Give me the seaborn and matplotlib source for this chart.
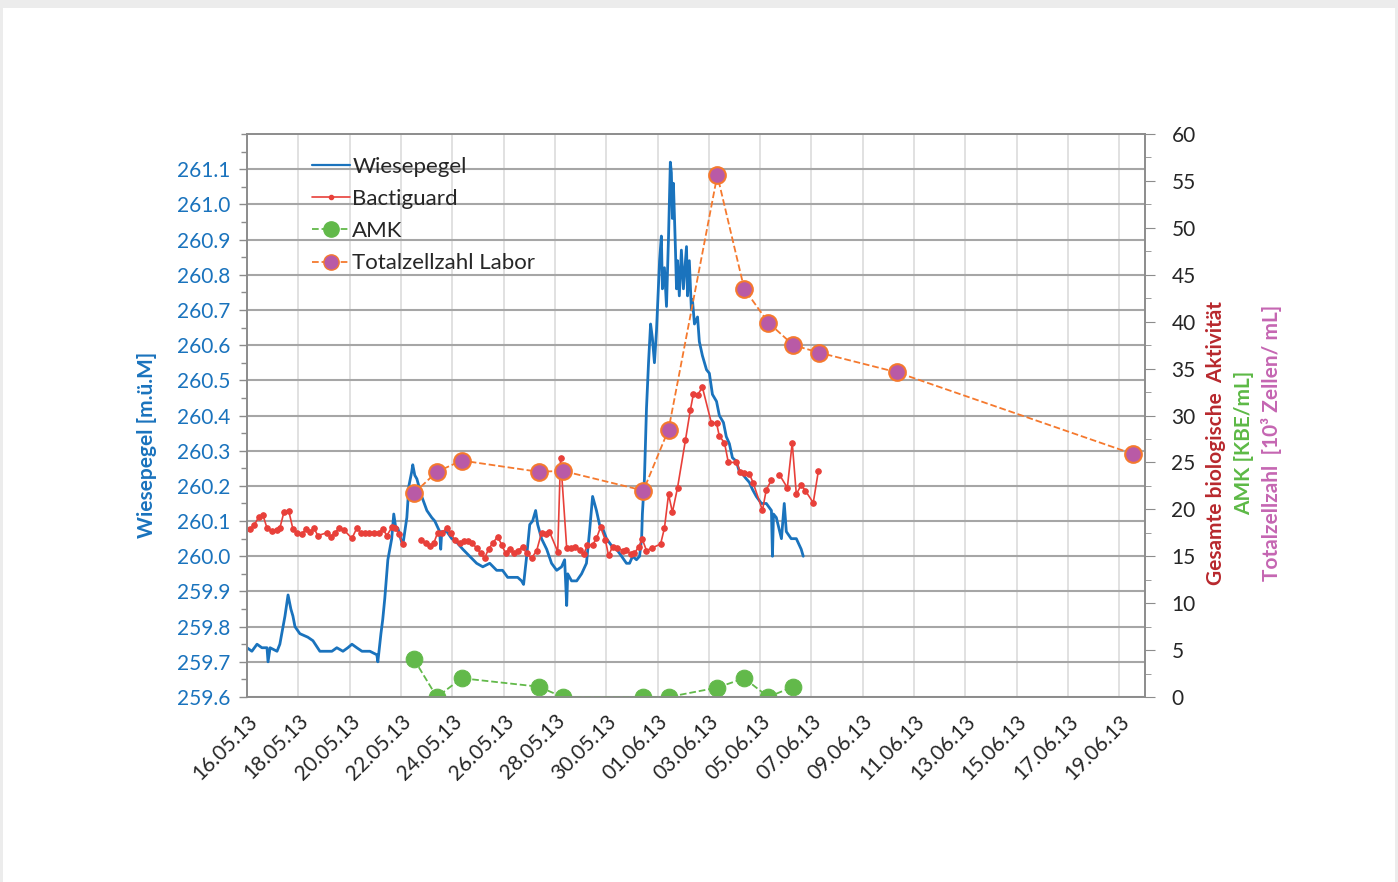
import matplotlib
matplotlib.use('AGG')

import numpy as np
import pandas as pd
import matplotlib.pyplot as plt
import matplotlib.dates as mdates
from matplotlib.ticker import MultipleLocator, FixedLocator
from matplotlib.lines import Line2D
from matplotlib.patches import Rectangle
import seaborn as sns

# --- data (days after 16.05.13 00:00) ---
pegel_tage = [0.00, 0.19, 0.39, 0.58, 0.78, 0.82, 0.90, 1.17, 1.28, 1.48, 1.60, 1.71,
              1.79, 1.87, 2.06, 2.37, 2.57, 2.84, 3.04, 3.31, 3.50, 3.74, 3.93, 4.09,
              4.28, 4.48, 4.79, 5.06, 5.10, 5.22, 5.29, 5.37, 5.49, 5.64, 5.72, 5.80,
              5.88, 5.99, 6.07, 6.23, 6.31, 6.42, 6.46, 6.54, 6.62, 6.81, 7.01, 7.20,
              7.32, 7.51, 7.55, 7.59, 7.79, 7.98, 8.17, 8.41, 8.68, 8.95, 9.19, 9.46,
              9.73, 9.96, 10.16, 10.35, 10.55, 10.70, 10.78, 10.90, 11.02, 11.13, 11.25,
              11.33, 11.48, 11.68, 11.87, 12.07, 12.26, 12.38, 12.46, 12.50, 12.65, 12.85,
              13.04, 13.23, 13.35, 13.47, 13.62, 13.74, 13.86, 14.01, 14.21, 14.40, 14.60,
              14.79, 14.91, 15.03, 15.18, 15.30, 15.38, 15.41, 15.49, 15.57, 15.65, 15.73,
              15.80, 15.88, 15.96, 16.08, 16.15, 16.19, 16.27, 16.35, 16.43, 16.50, 16.54,
              16.58, 16.62, 16.70, 16.74, 16.78, 16.85, 16.93, 17.01, 17.13, 17.17, 17.24,
              17.32, 17.36, 17.44, 17.56, 17.63, 17.75, 17.91, 18.02, 18.14, 18.30, 18.41,
              18.57, 18.68, 18.80, 18.92, 19.07, 19.19, 19.35, 19.46, 19.58, 19.70, 19.85,
              20.05, 20.24, 20.44, 20.48, 20.52, 20.63, 20.83, 20.94, 21.02, 21.21, 21.41,
              21.60, 21.68]
pegel = [259.74, 259.73, 259.75, 259.74, 259.74, 259.70, 259.74, 259.73, 259.75, 259.83,
         259.89, 259.85, 259.83, 259.80, 259.78, 259.77, 259.76, 259.73, 259.73, 259.73,
         259.74, 259.73, 259.74, 259.75, 259.74, 259.73, 259.73, 259.72, 259.70, 259.78,
         259.82, 259.88, 259.99, 260.05, 260.12, 260.08, 260.08, 260.05, 260.03, 260.11,
         260.20, 260.24, 260.26, 260.23, 260.22, 260.17, 260.13, 260.11, 260.10, 260.07,
         260.02, 260.07, 260.07, 260.05, 260.04, 260.02, 260.00, 259.98, 259.97, 259.98,
         259.96, 259.96, 259.94, 259.94, 259.94, 259.93, 259.92, 260.00, 260.09, 260.10,
         260.13, 260.09, 260.05, 260.02, 259.98, 259.96, 259.97, 259.99, 259.86, 259.95,
         259.93, 259.93, 259.95, 259.98, 260.07, 260.17, 260.13, 260.09, 260.08, 260.05,
         260.03, 260.02, 260.00, 259.98, 259.98, 260.00, 259.99, 260.00, 260.05, 260.12,
         260.22, 260.42, 260.55, 260.66, 260.62, 260.55, 260.64, 260.84, 260.91, 260.76,
         260.82, 260.71, 260.91, 261.12, 261.09, 260.96, 261.06, 260.87, 260.76, 260.84,
         260.74, 260.87, 260.76, 260.88, 260.74, 260.84, 260.70, 260.73, 260.66, 260.68,
         260.61, 260.57, 260.53, 260.52, 260.46, 260.44, 260.40, 260.38, 260.34, 260.32,
         260.28, 260.27, 260.24, 260.23, 260.22, 260.21, 260.19, 260.17, 260.15, 260.15,
         260.13, 260.00, 260.12, 260.11, 260.05, 260.15, 260.07, 260.05, 260.05, 260.02,
         260.00]

bacti_tage = [0.12, 0.27, 0.47, 0.62, 0.78, 0.97, 1.17, 1.28, 1.44, 1.63, 1.79, 1.95,
              2.14, 2.30, 2.45, 2.61, 2.76, 3.11, 3.27, 3.43, 3.58, 3.78, 4.09, 4.28,
              4.44, 4.59, 4.75, 4.95, 5.14, 5.30, 5.45, 5.65, 5.76, 5.92, 6.07,
              6.77, 6.97, 7.12, 7.28, 7.43, 7.59, 7.79, 7.94, 8.10, 8.29,
              8.45, 8.60, 8.76, 8.95, 9.11, 9.26, 9.42, 9.58, 9.77, 9.93,
              10.08, 10.24, 10.39, 10.55, 10.74, 10.90, 11.09, 11.29, 11.48, 11.64,
              11.79, 12.11, 12.22, 12.46, 12.61, 12.77, 12.96, 13.12, 13.27, 13.47,
              13.62, 13.78, 13.97, 14.09, 14.25, 14.44, 14.64, 14.79, 14.95, 15.10,
              15.26, 15.41, 15.57, 15.80, 16.12, 16.27, 16.43, 16.58, 16.78, 17.09,
              17.28, 17.40, 17.56, 17.75, 18.10, 18.30, 18.41, 18.61, 18.76, 19.07,
              19.23, 19.38, 19.58, 19.73, 20.09, 20.24, 20.44,
              20.75, 21.06, 21.25, 21.41, 21.60, 21.76, 22.07, 22.27]
bactiguard = [17.9, 18.3, 19.2, 19.4, 18.0, 17.7, 17.8, 18.0, 19.7, 19.8, 17.9, 17.5,
              17.4, 17.9, 17.6, 18.0, 17.2, 17.5, 17.1, 17.5, 18.0, 17.8, 16.9, 18.0,
              17.5, 17.5, 17.5, 17.5, 17.5, 17.9, 17.2, 18.1, 18.0, 17.4, 16.3,
              16.7, 16.4, 16.1, 16.4, 17.5, 17.5, 18.0, 17.5, 16.7, 16.4,
              16.6, 16.6, 16.4, 15.9, 15.3, 14.8, 15.8, 16.4, 17.1, 16.2,
              15.3, 15.8, 15.3, 15.6, 16.0, 15.3, 14.8, 15.6, 17.5, 17.4,
              17.6, 15.5, 25.5, 15.9, 15.9, 16.0, 15.7, 15.2, 16.2, 16.2,
              16.9, 18.1, 16.7, 15.1, 16.0, 15.9, 15.6, 15.7, 15.2, 15.3,
              16.0, 16.8, 15.6, 15.9, 16.3, 18.0, 21.6, 19.7, 22.3, 27.4,
              30.6, 32.3, 32.2, 33.0, 29.2, 29.2, 27.8, 27.1, 25.0, 25.0,
              24.0, 23.9, 23.8, 22.8, 19.9, 22.1, 23.1,
              23.7, 22.3, 27.1, 21.6, 22.6, 22.0, 20.7, 24.1]
bacti_abschnitt = [1] * 35 + [2] * 77 + [3] * 8

labor_tage = [6.50, 7.40, 8.37, 11.37, 12.30, 15.45, 16.43, 18.33, 19.38, 20.32, 21.29]
amk = [4.05, 0.0, 2.0, 1.1, 0.0, 0.0, 0.0, 1.0, 2.0, 0.0, 1.1]

tzz_tage = [6.50, 7.40, 8.37, 11.37, 12.30, 15.45, 16.43, 18.33, 19.38, 20.32, 21.29,
            22.30, 25.34, 34.53]
totalzellzahl = [21.7, 24.0, 25.2, 24.0, 24.1, 22.0, 28.5, 55.6, 43.5, 39.9, 37.5,
                 36.7, 34.6, 25.9]

start = pd.Timestamp('2013-05-16')


def zeit(tage):
    return start + pd.to_timedelta(tage, unit='D')


df_pegel = pd.DataFrame({'zeit': zeit(pegel_tage), 'wert': pegel})
df_bacti = pd.DataFrame({'zeit': zeit(bacti_tage), 'wert': bactiguard,
                         'abschnitt': bacti_abschnitt})
df_amk = pd.DataFrame({'zeit': zeit(labor_tage), 'wert': amk})
df_tzz = pd.DataFrame({'zeit': zeit(tzz_tage), 'wert': totalzellzahl})

blau = '#1a73bd'
rot = '#e8403a'
gruen = '#62b94a'
orange = '#f5792e'
lila = '#b95aa6'

sns.set_style('white')
plt.rcParams['font.family'] = ['Lato', 'DejaVu Sans']

fig = plt.figure(figsize=(13.98, 8.82), dpi=100)
fig.patch.set_facecolor('#ececec')
fig.patches.append(Rectangle((3 / 1398, 0), 1392 / 1398, 874 / 882, facecolor='white',
                             edgecolor='none', transform=fig.transFigure, zorder=-10))

ax = fig.add_axes([247 / 1398, 1 - 697 / 882, (1145 - 247) / 1398, (697 - 134) / 882])
ax.patch.set_alpha(0)
ax2 = ax.twinx()

sns.lineplot(data=df_pegel, x='zeit', y='wert', ax=ax, color=blau, lw=2.0,
             estimator=None, sort=False)

sns.lineplot(data=df_bacti, x='zeit', y='wert', units='abschnitt', ax=ax2, color=rot,
             lw=1.2, marker='o', markersize=4, markeredgecolor=rot,
             estimator=None, sort=False)
sns.lineplot(data=df_amk, x='zeit', y='wert', ax=ax2, color=gruen, lw=1.3, ls='--',
             marker='o', markersize=12, markeredgecolor=gruen, estimator=None, sort=False)
sns.lineplot(data=df_tzz, x='zeit', y='wert', ax=ax2, color=orange, lw=1.3, ls='--',
             marker='o', markersize=12, markerfacecolor=lila, markeredgecolor=orange,
             markeredgewidth=1.5, estimator=None, sort=False)

# axes
x0 = mdates.date2num(pd.Timestamp('2013-05-16'))
x1 = mdates.date2num(pd.Timestamp('2013-06-20'))
ax.set_xlim(x0, x1)
major = pd.date_range('2013-05-16', '2013-06-19', freq='2D')
minor = pd.date_range('2013-05-16', '2013-06-20', freq='D')
ax.xaxis.set_major_locator(FixedLocator(mdates.date2num(major)))
ax.xaxis.set_minor_locator(FixedLocator(mdates.date2num(minor)))
ax.set_xticklabels([d.strftime('%d.%m.%y') for d in major], rotation=45, ha='right',
                   rotation_mode='anchor', fontsize=15)

ax.set_ylim(259.6, 261.2)
ax.set_yticks(np.round(np.arange(259.6, 261.15, 0.1), 1))
ax.set_yticklabels([f'{v:.1f}' for v in np.arange(259.6, 261.15, 0.1)], color=blau,
                   fontsize=15)
ax.yaxis.set_minor_locator(MultipleLocator(0.05))

ax2.set_ylim(0, 60)
ax2.set_yticks(range(0, 61, 5))
ax2.yaxis.set_minor_locator(MultipleLocator(2.5))
ax2.tick_params(axis='y', labelsize=15, pad=12)

ax.set_xlabel('')
ax.set_ylabel('')
ax2.set_xlabel('')
ax2.set_ylabel('')

ax.grid(True, axis='y', color='#a6a6a6', lw=1.5)
ax.grid(True, axis='x', which='major', color='#dcdcdc', lw=1.2)
ax.set_axisbelow(True)

for a in (ax, ax2):
    for s in a.spines.values():
        s.set_color('#8c8c8c')
        s.set_linewidth(1.2)
ax.tick_params(axis='both', which='both', color='#8c8c8c', width=1)
ax.tick_params(axis='y', which='major', length=6, direction='out', pad=6)
ax.tick_params(axis='y', which='minor', length=4, direction='out')
ax.tick_params(axis='x', which='major', length=8, direction='inout', pad=6)
ax.tick_params(axis='x', which='minor', length=6, direction='inout')
ax2.tick_params(axis='y', which='both', color='#8c8c8c', direction='out')
ax2.tick_params(axis='y', which='major', length=7)
ax2.tick_params(axis='y', which='minor', length=4)

# legend
handles = [
    Line2D([], [], color=blau, lw=1.6),
    Line2D([], [], color=rot, lw=1.2, marker='o', markersize=3),
    Line2D([], [], color=gruen, lw=1.3, ls='--', marker='o', markersize=11),
    Line2D([], [], color=orange, lw=1.3, ls='--', marker='o', markersize=11,
           markerfacecolor=lila, markeredgecolor=orange),
]
labels = ['Wiesepegel', 'Bactiguard', 'AMK', 'Totalzellzahl Labor']
leg = ax2.legend(handles, labels, loc='upper left', bbox_to_anchor=(0.05, 0.995),
                 frameon=False, fontsize=16, handlelength=1.7, handletextpad=0.12,
                 labelspacing=0.55)

# axis titles
fig.text(147 / 1398, 1 - 445 / 882, 'Wiesepegel [m.ü.M]', rotation=90, color=blau,
         fontsize=15, fontweight='bold', ha='center', va='center')
fig.text(1216 / 1398, 1 - 443 / 882, 'Gesamte biologische  Aktivität', rotation=90,
         color='#b8282d', fontsize=15, fontweight='bold', ha='center', va='center')
fig.text(1244 / 1398, 1 - 443 / 882, 'AMK [KBE/mL]', rotation=90,
         color='#5db946', fontsize=15, fontweight='bold', ha='center', va='center')
fig.text(1272 / 1398, 1 - 443 / 882, 'Totalzellzahl  [10³ Zellen/ mL]', rotation=90,
         color='#c566b2', fontsize=15, fontweight='bold', ha='center', va='center')

fig.savefig('out.png', dpi=100)
